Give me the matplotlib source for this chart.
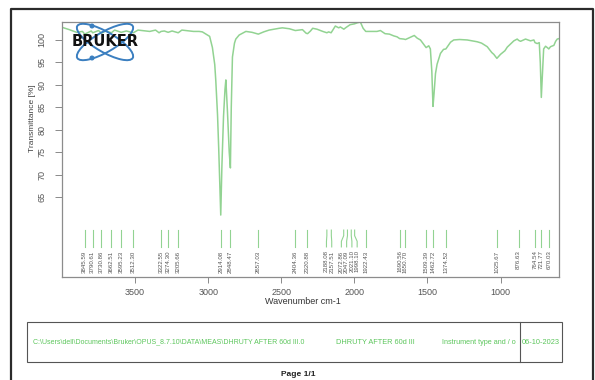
import matplotlib.pyplot as plt
import matplotlib.transforms as mtransforms
from matplotlib.patches import Ellipse, Rectangle, Circle
import numpy as np

plt.rcParams['font.family'] = ['Liberation Sans', 'DejaVu Sans']

# spectrum: wavenumber (cm-1) and transmittance (%)
wavenumber = np.array([
    3998, 3950, 3900, 3860, 3845, 3800, 3790, 3750, 3730, 3700, 3662, 3640,
    3595, 3560, 3512, 3480, 3452, 3400, 3360, 3336, 3322, 3300, 3274, 3247,
    3205, 3180, 3151, 3100, 3062, 3040, 3005, 2990, 2971, 2955, 2948, 2936,
    2928, 2920, 2914, 2906, 2895, 2885, 2879, 2868, 2856, 2848, 2842, 2834,
    2820, 2811, 2788, 2742, 2700, 2657, 2620, 2583, 2514, 2492, 2445, 2404,
    2355, 2330, 2320, 2300, 2285, 2256, 2216, 2188, 2176, 2159, 2130, 2107,
    2096, 2072, 2056, 2029, 1998, 1982, 1959, 1940, 1922, 1880, 1845, 1822,
    1790, 1760, 1730, 1708, 1690, 1662, 1650, 1616, 1590, 1570, 1548, 1520,
    1509, 1491, 1480, 1470, 1462, 1455, 1445, 1434, 1411, 1390, 1374, 1342,
    1320, 1280, 1228, 1160, 1130, 1091, 1060, 1046, 1025, 1000, 970, 954,
    909, 886, 876, 863, 829, 795, 772, 764, 749, 735, 728, 721, 714, 705,
    692, 680, 670, 658, 635, 623, 612, 600])
transmittance = np.array([
    102.8, 102.3, 101.7, 101.9, 101.3, 102.0, 101.6, 102.1, 101.5, 102.0, 101.6, 102.2,
    101.7, 102.0, 101.6, 102.2, 102.1, 101.9, 102.2, 101.6, 101.9, 102.0, 101.7, 102.0,
    101.6, 102.2, 102.1, 101.9, 101.9, 101.8, 101.1, 100.8, 98.3, 94.5, 91.0, 83.3,
    75.9, 67.0, 61.0, 72.0, 83.0, 89.0, 91.1, 84.0, 75.0, 71.5, 85.0, 96.2,
    99.3, 100.2, 101.1, 101.9, 101.7, 101.3, 101.8, 102.2, 102.6, 102.7, 102.5, 102.1,
    102.3, 101.5, 101.4, 102.0, 102.6, 102.4, 101.9, 101.6, 101.8, 101.6, 103.1, 102.7,
    102.9, 102.4, 102.8, 103.4, 103.6, 103.8, 104.0, 102.6, 101.9, 101.9, 101.9, 102.1,
    101.4, 101.3, 100.9, 100.7, 100.3, 100.2, 100.1, 100.6, 101.0, 100.4, 100.0, 98.8,
    98.3, 98.7, 98.0, 93.0, 85.2, 88.0, 92.5, 94.6, 97.0, 97.9, 98.0, 99.5,
    100.0, 100.1, 100.0, 99.6, 99.3, 98.5, 97.2, 96.8, 95.9, 96.8, 97.6, 98.4,
    99.8, 100.2, 99.9, 99.7, 100.2, 99.8, 100.0, 99.4, 99.2, 99.4, 95.0, 87.2, 92.0, 98.0,
    98.6, 98.3, 98.0, 98.5, 98.8, 99.7, 100.2, 100.3])

peak_labels = ['3845.59', '3790.61', '3730.86', '3662.51', '3595.23', '3512.30',
               '3322.55', '3274.30', '3205.66', '2914.08', '2848.47', '2657.03',
               '2404.36', '2320.88', '2188.08', '2157.51', '2072.86', '2047.09',
               '2021.10', '1998.10', '1922.43', '1690.56', '1650.70', '1509.39',
               '1462.72', '1374.52', '1025.67', '876.63', '764.54', '721.77', '670.03']
peaks = np.array([float(s) for s in peak_labels])

x_ticks = [3500, 3000, 2500, 2000, 1500, 1000]
y_ticks = [65, 70, 75, 80, 85, 90, 95, 100]

file_path = 'C:\\Users\\dell\\Documents\\Bruker\\OPUS_8.7.10\\DATA\\MEAS\\DHRUTY AFTER 60d III.0'
sample_name = 'DHRUTY AFTER 60d III'
instrument = 'Instrument type and / o'
meas_date = '06-10-2023'

W, H = 595, 380
line_green = '#92d392'

fig = plt.figure(figsize=(W / 100, H / 100), dpi=100)

def fx(px):
    return px / W

def fy(py):
    return 1 - py / H

# page frame
fig.add_artist(plt.Line2D([fx(11), fx(11), fx(593), fx(593)],
                          [fy(381), fy(9), fy(9), fy(381)],
                          color='#2b2b2b', lw=1.6))

ax = fig.add_axes([fx(62), fy(277), fx(559) - fx(62), fy(22) - fy(277)])
ax.plot(wavenumber, transmittance, color=line_green, lw=1.1)
ax.set_xlim(4000, 600)
ax.set_ylim(47.2, 104)
for s in ax.spines.values():
    s.set_color('#8c8c8c')
    s.set_linewidth(0.9)

ax.set_xticks(x_ticks)
ax.set_yticks(y_ticks)
ax.set_yticklabels([str(v) for v in y_ticks], rotation=90, va='center')
ax.tick_params(axis='x', length=4, width=0.6, color='#777777', labelsize=6.5,
               labelcolor='#555555', pad=4)
ax.tick_params(axis='y', length=5, width=0.6, color='#777777', labelsize=6.5,
               labelcolor='#555555', pad=6)

# peak markers with leader lines, labels pushed apart where crowded
min_sep = 36
label_x = peaks.copy()
for _ in range(300):
    for i in range(len(label_x) - 1):
        gap = label_x[i] - label_x[i + 1]
        if gap < min_sep:
            shift = (min_sep - gap) / 2
            label_x[i] += shift
            label_x[i + 1] -= shift

trans = mtransforms.blended_transform_factory(ax.transData, ax.transAxes)
for p, lx, lab in zip(peaks, label_x, peak_labels):
    ax.plot([p, p, lx, lx], [0.184, 0.162, 0.14, 0.118], color=line_green,
            lw=0.8, transform=trans, clip_on=False)
    ax.text(lx, 0.104, lab, rotation=90, ha='center', va='top', fontsize=4.4,
            color='#555555', transform=trans)

fig.text(fx(33), fy(118), 'Transmittance [%]', rotation=90, ha='center',
         va='center', fontsize=6, color='#444444')
fig.text(fx(303), fy(302), 'Wavenumber cm-1', ha='center', va='center',
         fontsize=6.5, color='#333333')

# Bruker logo
logo = fig.add_axes([fx(62), fy(62), fx(150) - fx(62), fy(22) - fy(62)])
logo.set_xlim(0, 88)
logo.set_ylim(0, 40)
logo.axis('off')
logo.patch.set_alpha(0)
for ang in (30, -30):
    logo.add_patch(Ellipse((43, 20), 64, 20, angle=ang, fill=False,
                           ec='#3b7fc0', lw=1.4))
logo.add_patch(Circle((30, 36), 1.8, color='#3b7fc0'))
logo.add_patch(Circle((30, 4), 1.8, color='#3b7fc0'))
logo.text(43, 20, 'BRUKER', ha='center', va='center', fontsize=10.5,
          fontweight='heavy', family='DejaVu Sans', color='#111111')

# footer table
fig.add_artist(Rectangle((fx(27), fy(362)), fx(562) - fx(27), fy(322) - fy(362),
                         fill=False, ec='#555555', lw=0.8))
fig.add_artist(plt.Line2D([fx(520), fx(520)], [fy(362), fy(322)],
                          color='#555555', lw=0.8))
foot_green = '#5cc65c'
fig.text(fx(33), fy(342), file_path, fontsize=5.0, color=foot_green, va='center')
fig.text(fx(336), fy(342), sample_name, fontsize=5.3, color=foot_green, va='center')
fig.text(fx(442), fy(342), instrument, fontsize=5.2, color=foot_green, va='center')
fig.text(fx(522), fy(342), meas_date, fontsize=5.3, color=foot_green, va='center')
fig.text(fx(298), fy(374), 'Page 1/1', fontsize=6, fontweight='bold',
         ha='center', va='center', color='#222222')

plt.savefig('out.png', dpi=100)
